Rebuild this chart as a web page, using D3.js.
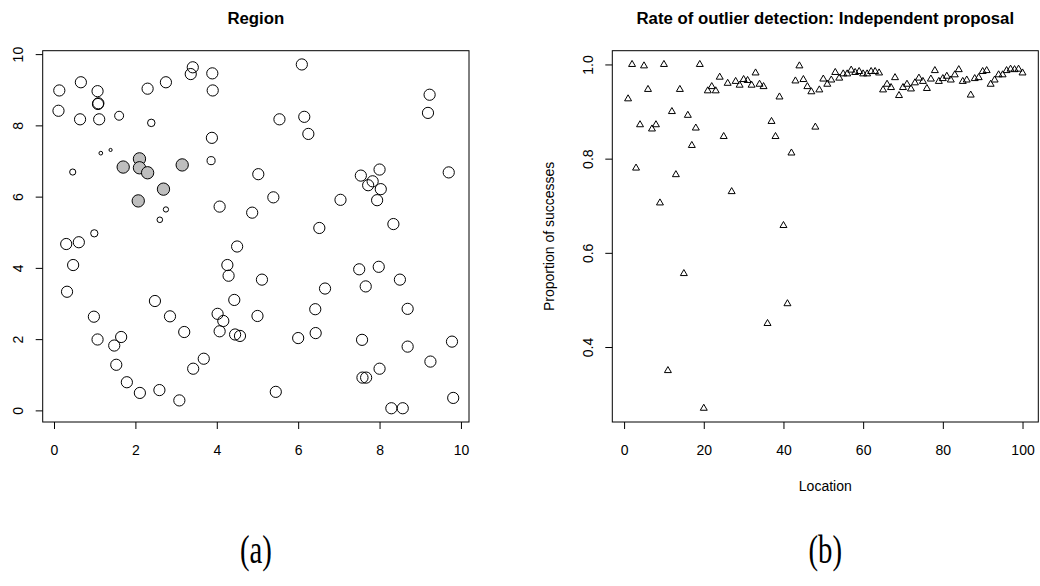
<!DOCTYPE html>
<html lang="en">
<head>
<meta charset="UTF-8">
<title>Region / Rate of outlier detection</title>
<script src="https://d3js.org/d3.v7.min.js"></script>
<style>
    body { margin: 0; background: #fff; }
    svg { display: block; font-family: "Liberation Sans", Arial, sans-serif; }
    .tick line { stroke: #000; }
    .tick text { font-size: 14px; fill: #000; }
    .title { font-size: 16.8px; font-weight: bold; text-anchor: middle; }
    .lab { font-size: 14px; text-anchor: middle; }
    .caption { font-family: "Liberation Serif", "DejaVu Serif", serif; font-size: 40px; text-anchor: middle; }
</style>
</head>
<body>
<svg id="chart" width="1040" height="586"></svg>
<script>
// panel (a): sites in the region, grey = outliers, size = weight
const siteX = [0.13,0.66,1.07,1.08,1.09,0.11,0.64,1.11,1.6,2.39,2.3,2.75,3.41,3.36,3.89,3.9,3.88,3.86,5.54,1.15,
    1.39,0.46,1.7,2.1,2.1,2.3,3.15,2.69,2.07,2.75,2.6,4.07,4.87,5.39,5.02,6.09,9.23,9.19,6.15,6.25,
    7.04,9.7,7.54,8.0,7.83,7.72,8.03,7.94,6.52,8.34,0.99,0.3,0.61,0.47,0.32,4.5,4.26,4.29,5.11,4.43,
    2.48,0.98,2.85,4.02,4.16,5.0,3.2,4.07,4.45,4.57,1.07,1.65,1.48,3.68,3.42,1.53,1.79,2.11,2.59,3.08,
    5.45,7.5,7.98,8.5,6.66,7.66,6.42,8.69,6.43,6.0,7.57,8.69,9.78,9.25,8.0,7.58,7.67,9.81,8.29,8.57];
const siteY = [8.98,9.21,8.96,8.6,8.62,8.41,8.17,8.17,8.27,8.07,9.03,9.21,9.63,9.44,9.46,8.98,7.65,7.01,8.17,7.22,
    7.31,6.69,6.83,7.06,6.81,6.67,6.89,6.21,5.88,5.64,5.35,5.72,5.55,5.98,6.63,9.71,8.86,8.35,8.24,7.76,
    5.91,6.68,6.59,6.76,6.43,6.32,6.21,5.9,5.12,5.23,4.97,4.67,4.72,4.08,3.33,4.6,4.08,3.78,3.67,3.1,
    3.07,2.63,2.64,2.71,2.51,2.65,2.2,2.22,2.13,2.09,1.99,2.06,1.82,1.45,1.17,1.28,0.79,0.49,0.57,0.28,
    0.52,3.96,4.03,3.67,3.42,3.48,2.84,2.85,2.17,2.03,1.98,1.79,1.93,1.37,1.17,0.92,0.92,0.35,0.06,0.06];
const siteWeight = [1,1,1,1,1,1,1,1,0.8,0.67,1,1,1,1,1,1,1,0.72,1,0.33,
    0.28,0.55,1.1,1.1,1.1,1.1,1.1,1.1,1.1,0.47,0.5,1,1,1,1,1,1,1,1,1,
    1,1,1,1,1,1,1,1,1,1,0.65,1,1,1,1,1,1,1,1,1,
    1,1,1,1,1,1,1,1,1,1,1,1,1,1,1,1,1,1,1,1,
    1,1,1,1,1,1,1,1,1,1,1,1,1,1,1,1,1,1,1,1];
const outlierIdx = [22,23,24,25,26,27,28];

// panel (b): proportion of successes at each location 1..100
const locations = d3.range(1, 101);
const successRate = [0.927,1.0,0.78,0.872,0.997,0.947,0.863,0.872,0.706,1.0,
    0.35,0.9,0.766,0.947,0.556,0.892,0.828,0.865,1.0,0.27,
    0.944,0.953,0.944,0.973,0.847,0.96,0.73,0.964,0.956,0.968,
    0.966,0.956,0.982,0.958,0.953,0.45,0.879,0.847,0.931,0.658,
    0.492,0.812,0.965,0.997,0.968,0.953,0.942,0.867,0.946,0.969,
    0.958,0.967,0.983,0.971,0.98,0.98,0.988,0.983,0.985,0.98,
    0.98,0.985,0.985,0.982,0.946,0.958,0.951,0.972,0.934,0.951,
    0.958,0.948,0.961,0.971,0.964,0.949,0.969,0.987,0.964,0.97,
    0.975,0.967,0.978,0.989,0.964,0.967,0.935,0.97,0.972,0.985,
    0.987,0.958,0.967,0.978,0.978,0.987,0.99,0.989,0.99,0.982];

const regionTicks = [0, 2, 4, 6, 8, 10];
const rateXTicks = [0, 20, 40, 60, 80, 100];
const rateYTicks = [0.4, 0.6, 0.8, 1.0];

const svg = d3.select("#chart");
const plotTop = 50.7, plotBottom = 422;

// R style: data range padded by 4% on each side
function padded(vals) {
    const [lo, hi] = d3.extent(vals);
    const p = (hi - lo) * 0.04;
    return [lo - p, hi + p];
}

function frame(x0, x1, xs, ys, xTicks, yTicks, fmt) {
    const g = svg.append("g");
    g.append("g")
        .attr("transform", `translate(0,${plotBottom})`)
        .call(d3.axisBottom(xs).tickValues(xTicks).tickSize(7).tickPadding(16).tickFormat(d3.format("d")))
        .call(a => a.select(".domain").remove());
    const ya = g.append("g")
        .attr("transform", `translate(${x0},0)`)
        .call(d3.axisLeft(ys).tickValues(yTicks).tickSize(7).tickFormat(fmt));
    ya.select(".domain").remove();
    ya.selectAll(".tick text")
        .attr("x", null).attr("dy", null)
        .attr("text-anchor", "middle")
        .attr("transform", "translate(-19.7,0) rotate(-90)");
    g.selectAll("g").attr("font-family", null).attr("font-size", null);
    g.append("rect")
        .attr("x", x0).attr("y", plotTop)
        .attr("width", x1 - x0).attr("height", plotBottom - plotTop)
        .attr("fill", "none").attr("stroke", "#000");
    return g;
}

// ---- panel (a)
const ax = d3.scaleLinear().domain(padded(siteX)).range([42.7, 469]);
const ay = d3.scaleLinear().domain(padded(siteY)).range([plotBottom, plotTop]);
const pa = frame(42.7, 469, ax, ay, regionTicks, regionTicks, d3.format("d"));

pa.append("g").selectAll("circle")
    .data(siteX.map((x, i) => ({ x, y: siteY[i], w: siteWeight[i], out: outlierIdx.includes(i) })))
    .join("circle")
    .attr("cx", d => ax(d.x))
    .attr("cy", d => ay(d.y))
    .attr("r", d => 5.6 * d.w)
    .attr("fill", d => d.out ? "#bebebe" : "none")
    .attr("stroke", "#000")
    .attr("stroke-width", 1);

svg.append("text").attr("class", "title").attr("x", (42.7 + 469) / 2).attr("y", 24).text("Region");

// ---- panel (b)
const bx = d3.scaleLinear().domain(padded(locations)).range([612.3, 1038.3]);
const by = d3.scaleLinear().domain(padded(successRate)).range([plotBottom, plotTop]);
const pb = frame(612.3, 1038.3, bx, by, rateXTicks, rateYTicks, d3.format(".1f"));

const tri = d3.symbol().type(d3.symbolTriangle).size(21);
pb.append("g").selectAll("path")
    .data(locations.map((l, i) => ({ l, v: successRate[i] })))
    .join("path")
    .attr("d", tri)
    .attr("transform", d => `translate(${bx(d.l)},${by(d.v)})`)
    .attr("fill", "none")
    .attr("stroke", "#000")
    .attr("stroke-width", 1);

const midB = (612.3 + 1038.3) / 2;
svg.append("text").attr("class", "title").attr("x", midB).attr("y", 24)
    .text("Rate of outlier detection: Independent proposal");
svg.append("text").attr("class", "lab").attr("x", midB).attr("y", 491).text("Location");
svg.append("text").attr("class", "lab")
    .attr("transform", `translate(554,${(plotTop + plotBottom) / 2}) rotate(-90)`)
    .text("Proportion of successes");

// captions (narrow, tall serif like the LaTeX sub-captions)
[["(a)", (42.7 + 469) / 2], ["(b)", midB]].forEach(([t, cx]) => {
    svg.append("text").attr("class", "caption")
        .attr("transform", `translate(${cx},563) scale(0.72,1)`)
        .text(t);
});
</script>
</body>
</html>
